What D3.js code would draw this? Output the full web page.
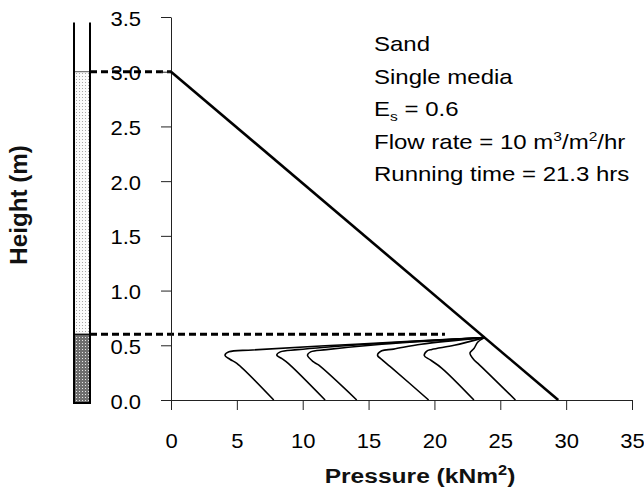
<!DOCTYPE html>
<html>
<head>
<meta charset="utf-8">
<script src="https://cdn.jsdelivr.net/npm/d3@7"></script>
<style>
  html, body { margin: 0; padding: 0; background: #fff; }
  svg { display: block; font-family: "Liberation Sans", Arial, Helvetica, sans-serif; }
</style>
</head>
<body>
<svg id="chart" width="644" height="494"></svg>
<script>
// Filter bed levels (m)
const tubeTop = 3.45;
const sandTop = 3.0;
const gravelTop = 0.6;

// Hydrostatic (clean-bed) pressure line: [pressure, height]
const hydrostatic = [[0, 3.0], [29.4, 0]];

// Pressure profiles at successive run times: [pressure kN/m2, height m]
const profile1 = [[23.8, 0.57], [14.0, 0.51], [6.2, 0.457], [4.4, 0.44], [4.1, 0.41], [4.5, 0.37], [5.0, 0.335], [7.8, 0]];
const profile2 = [[23.8, 0.57], [15.0, 0.51], [9.6, 0.46], [8.3, 0.44], [8.03, 0.41], [8.4, 0.38], [8.9, 0.335], [11.7, 0]];
const profile3 = [[23.8, 0.57], [16.0, 0.51], [11.8, 0.46], [10.6, 0.44], [10.36, 0.41], [10.8, 0.35], [11.2, 0.32], [14.1, 0]];
const profile4 = [[23.8, 0.57], [19.0, 0.51], [16.9, 0.465], [16.0, 0.45], [15.68, 0.41], [16.1, 0.36], [16.65, 0.305], [19.56, 0]];
const profile5 = [[23.8, 0.57], [21.5, 0.5], [19.8, 0.462], [19.4, 0.445], [19.23, 0.405], [19.69, 0.366], [20.57, 0.29], [23.0, 0]];
const profile6 = [[23.8, 0.57], [23.3, 0.53], [23.0, 0.47], [22.7, 0.43], [22.98, 0.37], [23.3, 0.335], [26.15, 0]];
const profiles = [profile1, profile2, profile3, profile4, profile5, profile6];

// Dashed reference levels: [height, pressure where the dash stops]
const levelLines = [[sandTop, 0], [gravelTop, 20.8]];

// Axis ticks
const xTicks = [0, 5, 10, 15, 20, 25, 30, 35];
const yTicks = [0, 0.5, 1.0, 1.5, 2.0, 2.5, 3.0, 3.5];

// Annotation lines
const notes = ["Sand", "Single media", "Es", "Flow", "Running time = 21.3 hrs"];

const svg = d3.select("#chart");
const x = d3.scaleLinear().domain([0, 35]).range([171, 632]);
const y = d3.scaleLinear().domain([0, 3.5]).range([400, 17]);

// Fill textures for the media column
const defs = svg.append("defs");
const sandPat = defs.append("pattern").attr("id", "sand").attr("patternUnits", "userSpaceOnUse")
  .attr("width", 3).attr("height", 3);
sandPat.append("rect").attr("width", 3).attr("height", 3).attr("fill", "#fbfbfb");
sandPat.append("rect").attr("x", 1).attr("y", 1).attr("width", 1).attr("height", 1).attr("fill", "#a8a8a8");
const gravPat = defs.append("pattern").attr("id", "gravel").attr("patternUnits", "userSpaceOnUse")
  .attr("width", 3).attr("height", 3);
gravPat.append("rect").attr("width", 3).attr("height", 3).attr("fill", "#6e6e6e");
gravPat.append("rect").attr("x", 1).attr("y", 1).attr("width", 1).attr("height", 1).attr("fill", "#e6e6e6");

// Media column drawn left of the pressure axis
const colL = 74, colR = 90;
const col = svg.append("g");
col.append("rect").attr("x", colL).attr("y", y(sandTop)).attr("width", colR - colL)
  .attr("height", y(gravelTop) - y(sandTop)).attr("fill", "url(#sand)");
col.append("rect").attr("x", colL).attr("y", y(gravelTop)).attr("width", colR - colL)
  .attr("height", y(0) + 3 - y(gravelTop)).attr("fill", "url(#gravel)");
col.append("line").attr("x1", colL).attr("x2", colR).attr("y1", y(sandTop)).attr("y2", y(sandTop))
  .attr("stroke", "#555").attr("stroke-width", 1);
col.append("line").attr("x1", colL).attr("x2", colR).attr("y1", y(gravelTop)).attr("y2", y(gravelTop))
  .attr("stroke", "#111").attr("stroke-width", 1.5);
col.append("path")
  .attr("d", `M${colL},${y(tubeTop)}V${y(0) + 3}H${colR}V${y(tubeTop)}`)
  .attr("fill", "none").attr("stroke", "#000").attr("stroke-width", 2);

// Dashed level lines
svg.append("g").selectAll("line").data(levelLines).join("line")
  .attr("x1", colR).attr("x2", d => x(d[1]))
  .attr("y1", d => y(d[0])).attr("y2", d => y(d[0]))
  .attr("stroke", "#000").attr("stroke-width", 3).attr("stroke-dasharray", "7,4");

// Axes
const tickFont = 20, tickSX = 1.1;
const yAxis = svg.append("g").attr("transform", `translate(${x(0)},0)`)
  .call(d3.axisLeft(y).tickValues(yTicks).tickFormat(d3.format(".1f")).tickSize(10).tickSizeOuter(0));
yAxis.selectAll("text").attr("x", null).attr("dy", null)
  .attr("transform", `translate(-30,8) scale(${tickSX},1)`).attr("text-anchor", "end");
const xAxis = svg.append("g").attr("transform", `translate(0,${y(0)})`)
  .call(d3.axisBottom(x).tickValues(xTicks).tickSize(10).tickSizeOuter(0));
xAxis.selectAll("text").attr("y", null).attr("dy", null)
  .attr("transform", `translate(0,48) scale(${tickSX},1)`);
svg.selectAll(".tick text").attr("font-size", tickFont).attr("fill", "#000")
  .attr("font-family", "Liberation Sans, Arial, sans-serif");
svg.selectAll(".domain, .tick line").attr("stroke", "#222").attr("stroke-width", 1);

// Hydrostatic line
const line = d3.line().x(d => x(d[0])).y(d => y(d[1]));
svg.append("path").datum(hydrostatic).attr("d", line)
  .attr("fill", "none").attr("stroke", "#000").attr("stroke-width", 2.6);

// Pressure profiles
const smooth = d3.line().x(d => x(d[0])).y(d => y(d[1])).curve(d3.curveCatmullRom.alpha(0.5));
svg.append("g").selectAll("path").data(profiles).join("path")
  .attr("d", smooth).attr("fill", "none").attr("stroke", "#000").attr("stroke-width", 1.6);

// Annotation block
const noteSX = 1.2;
const noteG = svg.append("g").attr("font-size", 20).attr("fill", "#000");
const baselines = [51, 83.5, 116, 148.5, 181];
notes.forEach((n, i) => {
  const t = noteG.append("text").attr("transform", `translate(374,${baselines[i]}) scale(${noteSX},1)`);
  if (n === "Es") {
    t.append("tspan").text("E");
    t.append("tspan").attr("font-size", 13).attr("dy", 5).text("s");
    t.append("tspan").attr("dy", -5).text(" = 0.6");
  } else if (n === "Flow") {
    t.append("tspan").text("Flow rate = 10 m");
    t.append("tspan").attr("font-size", 13).attr("dy", -8).text("3");
    t.append("tspan").attr("dy", 8).text("/m");
    t.append("tspan").attr("font-size", 13).attr("dy", -8).text("2");
    t.append("tspan").attr("dy", 8).text("/hr");
  } else {
    t.text(n);
  }
});

// Axis titles
const xt = svg.append("text").attr("transform", `translate(420,483) scale(1.17,1)`)
  .attr("text-anchor", "middle").attr("font-size", 21).attr("font-weight", "bold").attr("fill", "#111");
xt.append("tspan").text("Pressure (kNm");
xt.append("tspan").attr("font-size", 14).attr("dy", -8).text("2");
xt.append("tspan").attr("dy", 8).text(")");

svg.append("text").attr("transform", `translate(27,205) rotate(-90) scale(1.15,1.1)`)
  .attr("text-anchor", "middle").attr("font-size", 21).attr("font-weight", "bold").attr("fill", "#111")
  .text("Height (m)");
</script>
</body>
</html>
